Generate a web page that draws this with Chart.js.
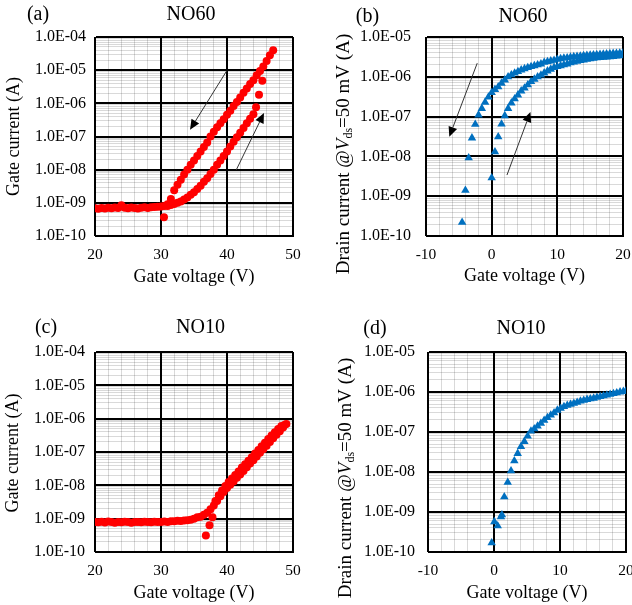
<!DOCTYPE html>
<html>
<head>
<meta charset="utf-8">
<script src="https://cdn.jsdelivr.net/npm/chart.js@4.4.1/dist/chart.umd.min.js"></script>
<style>
  body { margin: 0; width: 632px; height: 605px; overflow: hidden; background: #fff; position: relative; }
  canvas { position: absolute; }
</style>
</head>
<body>
<canvas id="panelA" width="316" height="300" style="left:0;top:0"></canvas>
<canvas id="panelB" width="330" height="300" style="left:316px;top:0"></canvas>
<canvas id="panelC" width="316" height="305" style="left:0;top:300px"></canvas>
<canvas id="panelD" width="330" height="305" style="left:316px;top:300px"></canvas>
<script>
// (a) NO60 gate current, forward sweep
const gateV_NO60_fwd = [20, 20.5, 21, 21.5, 22, 22.5, 23, 23.5, 24, 24.5, 25, 25.5, 26, 26.5, 27, 27.5, 28, 28.5, 29, 29.5, 30, 30.5,
  31, 31.5, 32, 32.5, 33, 33.5, 34, 34.5, 35, 35.5, 36, 36.5, 37, 37.5, 38, 38.5, 39, 39.5, 40, 40.5, 41, 41.5, 42, 42.5, 43, 43.5, 44,
  44.4, 44.85, 45.35];
const gateI_NO60_fwd = [6.9e-10, 6.6e-10, 7.0e-10, 6.8e-10, 7.1e-10, 6.9e-10, 7.2e-10, 7.0e-10, 8.4e-10, 7.1e-10, 6.9e-10, 7.2e-10,
  7.0e-10, 6.8e-10, 7.1e-10, 7.3e-10, 7.0e-10, 7.4e-10, 7.5e-10, 7.6e-10, 7.8e-10, 8.0e-10,
  8.0e-10, 8.6e-10, 9.3e-10, 1.0e-9, 1.1e-9, 1.25e-9, 1.45e-9, 1.75e-9, 2.1e-9, 2.6e-9, 3.3e-9, 4.3e-9, 5.5e-9, 7.4e-9,
  1.0e-8, 1.4e-8, 1.9e-8, 2.6e-8, 3.5e-8, 5.0e-8, 6.9e-8, 9.5e-8, 1.3e-7, 1.8e-7, 2.5e-7, 3.4e-7, 4.7e-7,
  7.6e-7, 1.8e-6, 4.8e-6];
// (a) NO60 gate current, reverse sweep
const gateV_NO60_rev = [47, 46.5, 46, 45.5, 45, 44.5, 44, 43.5, 43, 42.5, 42, 41.5, 41, 40.5, 40, 39.5, 39, 38.5, 38, 37.5,
  37, 36.5, 36, 35.5, 35, 34.5, 34, 33.5, 33, 32.5, 32, 31.5, 31, 30.45];
const gateI_NO60_rev = [4.0e-5, 2.8e-5, 1.9e-5, 1.3e-5, 9.5e-6, 7.0e-6, 5.0e-6, 3.8e-6, 2.8e-6, 2.1e-6, 1.5e-6, 1.1e-6, 8.3e-7,
  6.0e-7, 4.5e-7, 3.3e-7, 2.5e-7, 1.9e-7, 1.4e-7, 1.0e-7, 6.6e-8, 4.8e-8, 3.5e-8, 2.6e-8, 1.9e-8, 1.4e-8, 1.0e-8, 7.2e-9,
  5.0e-9, 3.5e-9, 2.4e-9, 1.3e-9, 9.0e-10, 3.7e-10];

// (b) NO60 drain current
const drainV_NO60_rev = [-4.5, -4, -3.5, -3, -2.5, -2, -1.5, -1, -0.5, 0, 0.5, 1, 1.5, 2, 2.5, 3, 3.5, 4, 4.5, 5, 5.5, 6, 6.5, 7,
  7.5, 8, 8.5, 9, 9.5, 10, 10.5, 11, 11.5, 12, 12.5, 13, 13.5, 14, 14.5, 15, 15.5, 16, 16.5, 17, 17.5, 18, 18.5, 19, 19.5, 20];
const drainI_NO60_rev = [2.2e-10, 1.4e-9, 9.2e-9, 2.9e-8, 6.4e-8, 1.1e-7, 1.6e-7, 2.3e-7, 3.1e-7, 4.0e-7,
  4.8e-7, 5.6e-7, 6.9e-7, 8.3e-7, 1.0e-6, 1.12e-6, 1.24e-6, 1.35e-6, 1.48e-6, 1.6e-6, 1.7e-6, 1.8e-6, 1.9e-6, 2.0e-6, 2.1e-6,
  2.3e-6, 2.4e-6, 2.5e-6, 2.6e-6, 2.75e-6, 2.85e-6, 2.95e-6, 3.0e-6, 3.1e-6, 3.2e-6, 3.25e-6, 3.3e-6, 3.4e-6, 3.45e-6, 3.5e-6,
  3.55e-6, 3.6e-6, 3.65e-6, 3.7e-6, 3.75e-6, 3.8e-6, 3.85e-6, 3.9e-6, 3.95e-6, 4.0e-6];
const drainV_NO60_fwd = [0, 0.5, 1, 1.5, 2, 2.5, 3, 3.5, 4, 4.5, 5, 5.5, 6, 6.5, 7, 7.5, 8, 8.5, 9, 9.5, 10, 10.5, 11, 11.5, 12,
  12.5, 13, 13.5, 14, 14.5, 15, 15.5, 16, 16.5, 17, 17.5, 18, 18.5, 19, 19.5, 20];
const drainI_NO60_fwd = [2.9e-9, 1.3e-8, 3.1e-8, 6.5e-8, 1.05e-7, 1.6e-7, 2.2e-7, 2.8e-7, 3.5e-7, 4.4e-7, 5.2e-7, 6.3e-7, 7.6e-7,
  8.7e-7, 1.0e-6, 1.1e-6, 1.25e-6, 1.4e-6, 1.55e-6, 1.7e-6, 1.8e-6, 1.9e-6, 2.0e-6, 2.1e-6, 2.25e-6, 2.35e-6, 2.45e-6, 2.55e-6,
  2.65e-6, 2.75e-6, 2.85e-6, 2.9e-6, 3.0e-6, 3.05e-6, 3.1e-6, 3.15e-6, 3.2e-6, 3.25e-6, 3.3e-6, 3.35e-6, 3.4e-6];

// (c) NO10 gate current
const gateV_NO10_fwd = [20, 20.5, 21, 21.5, 22, 22.5, 23, 23.5, 24, 24.5, 25, 25.5, 26, 26.5, 27, 27.5, 28, 28.5, 29, 29.5, 30,
  30.5, 31, 31.5, 32, 32.5, 33, 33.5, 34, 34.5, 35, 35.5, 36, 36.5, 37, 37.5, 38, 38.5, 39, 39.5, 40, 40.5, 41, 41.5, 42, 42.5,
  43, 43.5, 44, 44.5, 45, 45.5, 46, 46.5, 47, 47.5, 48, 48.5, 49];
const gateI_NO10_fwd = [8.0e-10, 7.8e-10, 8.1e-10, 7.7e-10, 8.2e-10, 7.9e-10, 7.6e-10, 8.0e-10, 7.8e-10, 8.1e-10, 7.9e-10, 7.6e-10,
  7.9e-10, 8.0e-10, 7.8e-10, 8.1e-10, 8.0e-10, 7.8e-10, 8.1e-10, 8.0e-10, 7.9e-10, 8.2e-10, 8.0e-10, 8.3e-10, 8.4e-10, 8.6e-10,
  8.5e-10, 8.8e-10, 8.9e-10, 9.3e-10, 1.0e-9, 1.1e-9, 1.15e-9, 1.3e-9, 1.5e-9, 1.9e-9, 2.5e-9, 3.4e-9, 4.7e-9, 6.3e-9, 8.3e-9,
  1.05e-8, 1.3e-8, 1.7e-8, 2.1e-8, 2.7e-8, 3.5e-8, 4.5e-8, 5.7e-8, 7.3e-8, 9.5e-8, 1.2e-7, 1.55e-7, 2.0e-7, 2.6e-7, 3.3e-7,
  4.2e-7, 5.4e-7, 6.9e-7];
const gateV_NO10_rev = [48.75, 48.25, 47.75, 47.25, 46.75, 46.25, 45.75, 45.25, 44.75, 44.25, 43.75, 43.25, 42.75, 42.25, 41.75,
  41.25, 40.75, 40.25, 39.75, 39.25, 38.75, 38.25, 37.8, 37.35, 36.8];
const gateI_NO10_rev = [6.6e-7, 6.0e-7, 4.9e-7, 3.9e-7, 3.1e-7, 2.45e-7, 1.9e-7, 1.5e-7, 1.15e-7, 9.0e-8, 7.0e-8, 5.5e-8, 4.3e-8,
  3.4e-8, 2.6e-8, 2.05e-8, 1.6e-8, 1.25e-8, 9.5e-9, 7.0e-9, 5.0e-9, 3.4e-9, 1.1e-9, 6.4e-10, 3.1e-10];

// (d) NO10 drain current
const drainV_NO10 = [-0.35, 0.05, 0.56, 1.06, 1.2, 1.56, 2.08, 2.58, 3.08, 3.59, 4.09, 4.6, 5.1, 5.6, 6.1, 6.6, 7.1, 7.6, 8.1,
  8.6, 9.1, 9.6, 10.1, 10.6, 11.1, 11.6, 12.1, 12.6, 13.1, 13.6, 14.1, 14.6, 15.1, 15.6, 16.1, 16.6, 17.1, 17.6, 18.1, 18.6,
  19.1, 19.6, 20];
const drainI_NO10 = [1.7e-10, 5.7e-10, 4.5e-10, 7.6e-10, 8.5e-10, 2.4e-9, 5.5e-9, 1.07e-8, 1.9e-8, 2.9e-8, 4.3e-8, 5.8e-8, 7.9e-8,
  1.05e-7, 1.2e-7, 1.4e-7, 1.65e-7, 1.95e-7, 2.3e-7, 2.65e-7, 3.0e-7, 3.5e-7, 3.9e-7, 4.3e-7, 4.65e-7, 4.9e-7, 5.2e-7, 5.5e-7,
  5.9e-7, 6.2e-7, 6.5e-7, 6.75e-7, 7.0e-7, 7.35e-7, 7.7e-7, 8.0e-7, 8.35e-7, 8.7e-7, 9.1e-7, 9.5e-7, 1.0e-6, 1.03e-6, 1.07e-6];

// sweep-direction arrows, in data units [V from, I from, V to, I to]
const arrowsNO60gate = [[39.95, 9.5e-6, 34.4, 1.6e-7], [41.4, 9.8e-9, 45.6, 5.1e-7]];
const arrowsNO60drain = [[-2.2, 2.2e-6, -6.45, 3.1e-8], [2.33, 3.4e-9, 5.9, 1.3e-7]];

const FONT = '"Liberation Serif", "Times New Roman", serif';
const RED = '#FF0000';
const BLUE = '#0070C0';

function pts(xs, ys) {
  return xs.map((x, i) => ({ x: x, y: ys[i] }));
}

function isDecade(v) {
  const e = Math.round(Math.log10(v));
  return Math.abs(v / Math.pow(10, e) - 1) < 1e-6;
}

function logTicks(minExp, maxExp) {
  const t = [];
  for (let e = minExp; e < maxExp; e++) {
    for (let m = 1; m < 10; m++) t.push({ value: m * Math.pow(10, e) });
  }
  t.push({ value: Math.pow(10, maxExp) });
  return t;
}

// texts around each panel + sweep arrows
const panelText = {
  id: 'panelText',
  afterDatasetsDraw(chart, args, o) {
    const ctx = chart.ctx;
    const xs = chart.scales.x, ys = chart.scales.y;
    ctx.save();
    ctx.strokeStyle = '#333';
    ctx.fillStyle = '#000';
    ctx.lineWidth = 1;
    (o.arrows || []).forEach(a => {
      const x1 = xs.getPixelForValue(a[0]), y1 = ys.getPixelForValue(a[1]);
      const x2 = xs.getPixelForValue(a[2]), y2 = ys.getPixelForValue(a[3]);
      const ang = Math.atan2(y2 - y1, x2 - x1);
      const L = 10, W = 4.5;
      const bx = x2 - L * Math.cos(ang), by = y2 - L * Math.sin(ang);
      ctx.beginPath();
      ctx.moveTo(x1, y1);
      ctx.lineTo(bx, by);
      ctx.stroke();
      ctx.beginPath();
      ctx.moveTo(x2, y2);
      ctx.lineTo(bx + W * Math.sin(ang), by - W * Math.cos(ang));
      ctx.lineTo(bx - W * Math.sin(ang), by + W * Math.cos(ang));
      ctx.closePath();
      ctx.fill();
    });
    ctx.restore();
  },
  afterDraw(chart, args, o) {
    const ctx = chart.ctx, area = chart.chartArea;
    const cx = (area.left + area.right) / 2;
    ctx.save();
    ctx.fillStyle = '#000';
    ctx.textAlign = 'center';
    ctx.textBaseline = 'middle';
    ctx.font = '20px ' + FONT;
    ctx.fillText(o.letter, o.letterX, o.topY);
    ctx.fillText(o.name, o.nameX, o.topY);
    ctx.font = '18px ' + FONT;
    ctx.fillText('Gate voltage (V)', cx, o.xTitleY);

    // rotated y title, made of parts (italic / subscript)
    ctx.translate(o.yTitleX, o.yTitleY);
    ctx.rotate(-Math.PI / 2);
    ctx.textAlign = 'left';
    ctx.textBaseline = 'middle';
    const size = o.yTitleSize || 18;
    const fontOf = p => (p.italic ? 'italic ' : '') + (p.sub ? Math.round(size * 0.62) : size) + 'px ' + FONT;
    let total = 0;
    o.yTitle.forEach(p => { ctx.font = fontOf(p); total += ctx.measureText(p.text).width; });
    let x = -total / 2;
    o.yTitle.forEach(p => {
      ctx.font = fontOf(p);
      ctx.fillText(p.text, x, p.sub ? size * 0.25 : 0);
      x += ctx.measureText(p.text).width;
    });
    ctx.restore();
  }
};

function makeChart(id, cfg) {
  const ctx = document.getElementById(id).getContext('2d');
  return new Chart(ctx, {
    type: 'scatter',
    data: { datasets: cfg.datasets },
    plugins: [panelText],
    options: {
      responsive: false,
      animation: false,
      layout: { padding: { top: cfg.top, right: cfg.right, left: 0, bottom: 0 } },
      elements: { point: { borderWidth: 0, hoverRadius: 0 } },
      scales: {
        x: {
          type: 'linear',
          min: cfg.xMin,
          max: cfg.xMax,
          afterBuildTicks: s => {
            const t = [];
            for (let v = cfg.xMin; v <= cfg.xMax; v += 2) t.push({ value: v });
            s.ticks = t;
          },
          afterFit: s => { s.height = cfg.xHeight; },
          grid: {
            color: c => (c.tick && c.tick.value % 10 === 0) ? '#000' : 'rgba(0,0,0,0.15)',
            lineWidth: c => (c.tick && c.tick.value % 10 === 0) ? 2 : 1,
            drawTicks: false
          },
          border: { color: '#000', width: 1 },
          ticks: {
            autoSkip: false,
            maxRotation: 0,
            padding: 10,
            color: '#000',
            font: { family: FONT, size: 15.5 },
            callback: v => (v % 10 === 0 ? String(v) : '')
          }
        },
        y: {
          type: 'logarithmic',
          min: Math.pow(10, cfg.yMinExp),
          max: Math.pow(10, cfg.yMaxExp),
          afterBuildTicks: s => { s.ticks = logTicks(cfg.yMinExp, cfg.yMaxExp); },
          afterFit: s => { s.width = cfg.yWidth; },
          grid: {
            color: c => (c.tick && isDecade(c.tick.value)) ? '#000' : 'rgba(0,0,0,0.15)',
            lineWidth: c => (c.tick && isDecade(c.tick.value)) ? 2 : 1,
            drawTicks: false
          },
          border: { color: '#000', width: 1 },
          ticks: {
            autoSkip: false,
            padding: cfg.yPad,
            color: '#000',
            font: { family: FONT, size: 16 },
            callback: v => {
              if (!isDecade(v)) return '';
              const e = Math.round(Math.log10(v));
              return '1.0E' + (e < 0 ? '-' : '+') + String(Math.abs(e)).padStart(2, '0');
            }
          }
        }
      },
      plugins: {
        legend: { display: false },
        tooltip: { enabled: false },
        panelText: cfg.text
      }
    }
  });
}

function redSet(xs, ys) {
  return { data: pts(xs, ys), pointStyle: 'circle', pointRadius: 4, backgroundColor: RED, borderWidth: 0 };
}
function blueSet(xs, ys) {
  return { data: pts(xs, ys), pointStyle: 'triangle', pointRadius: 4.9, backgroundColor: BLUE, borderWidth: 0 };
}

const gateTitle = [{ text: 'Gate current (A)' }];
const drainTitle = [
  { text: 'Drain current @' },
  { text: 'V', italic: true },
  { text: 'ds', sub: true },
  { text: '=50 mV (A)' }
];

document.addEventListener('DOMContentLoaded', function () {
  makeChart('panelA', {
    datasets: [redSet(gateV_NO60_fwd, gateI_NO60_fwd), redSet(gateV_NO60_rev, gateI_NO60_rev)],
    xMin: 20, xMax: 50, yMinExp: -10, yMaxExp: -4,
    top: 37, right: 23, yWidth: 95, xHeight: 64, yPad: 9,
    text: { letter: '(a)', letterX: 38, name: 'NO60', nameX: 191, topY: 15, xTitleY: 277,
      yTitleX: 14, yTitleY: 136.5, yTitle: gateTitle, arrows: arrowsNO60gate }
  });

  makeChart('panelB', {
    datasets: [blueSet(drainV_NO60_rev, drainI_NO60_rev), blueSet(drainV_NO60_fwd, drainI_NO60_fwd)],
    xMin: -10, xMax: 20, yMinExp: -10, yMaxExp: -5,
    top: 37, right: 23, yWidth: 110, xHeight: 64, yPad: 15,
    text: { letter: '(b)', letterX: 51.5, name: 'NO60', nameX: 207, topY: 17, xTitleY: 276,
      yTitleX: 28, yTitleY: 154, yTitle: drainTitle, yTitleSize: 19, arrows: arrowsNO60drain }
  });

  makeChart('panelC', {
    datasets: [redSet(gateV_NO10_fwd, gateI_NO10_fwd), redSet(gateV_NO10_rev, gateI_NO10_rev)],
    xMin: 20, xMax: 50, yMinExp: -10, yMaxExp: -4,
    top: 52, right: 23, yWidth: 95, xHeight: 53, yPad: 10,
    text: { letter: '(c)', letterX: 46, name: 'NO10', nameX: 200.5, topY: 27.5, xTitleY: 293,
      yTitleX: 13, yTitleY: 153, yTitle: gateTitle }
  });

  makeChart('panelD', {
    datasets: [blueSet(drainV_NO10, drainI_NO10)],
    xMin: -10, xMax: 20, yMinExp: -10, yMaxExp: -5,
    top: 52, right: 20, yWidth: 112, xHeight: 53, yPad: 13,
    text: { letter: '(d)', letterX: 59, name: 'NO10', nameX: 205, topY: 29, xTitleY: 293,
      yTitleX: 30, yTitleY: 178, yTitle: drainTitle, yTitleSize: 19 }
  });
});
</script>
</body>
</html>
